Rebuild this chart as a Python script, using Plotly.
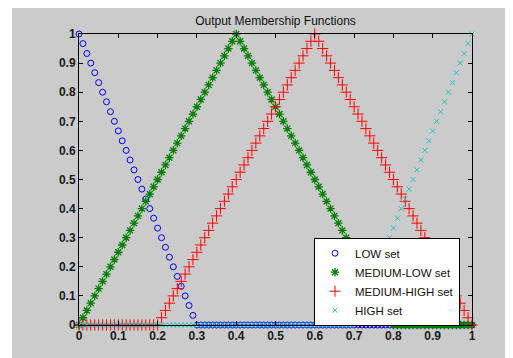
import plotly.graph_objects as go

x_values = [
    0.00, 0.01, 0.02, 0.03, 0.04, 0.05, 0.06, 0.07, 0.08, 0.09,
    0.10, 0.11, 0.12, 0.13, 0.14, 0.15, 0.16, 0.17, 0.18, 0.19,
    0.20, 0.21, 0.22, 0.23, 0.24, 0.25, 0.26, 0.27, 0.28, 0.29,
    0.30, 0.31, 0.32, 0.33, 0.34, 0.35, 0.36, 0.37, 0.38, 0.39,
    0.40, 0.41, 0.42, 0.43, 0.44, 0.45, 0.46, 0.47, 0.48, 0.49,
    0.50, 0.51, 0.52, 0.53, 0.54, 0.55, 0.56, 0.57, 0.58, 0.59,
    0.60, 0.61, 0.62, 0.63, 0.64, 0.65, 0.66, 0.67, 0.68, 0.69,
    0.70, 0.71, 0.72, 0.73, 0.74, 0.75, 0.76, 0.77, 0.78, 0.79,
    0.80, 0.81, 0.82, 0.83, 0.84, 0.85, 0.86, 0.87, 0.88, 0.89,
    0.90, 0.91, 0.92, 0.93, 0.94, 0.95, 0.96, 0.97, 0.98, 0.99,
    1.00,
]

low_set = [
    1.000, 0.967, 0.933, 0.900, 0.867, 0.833, 0.800, 0.767, 0.733, 0.700,
    0.667, 0.633, 0.600, 0.567, 0.533, 0.500, 0.467, 0.433, 0.400, 0.367,
    0.333, 0.300, 0.267, 0.233, 0.200, 0.167, 0.133, 0.100, 0.067, 0.033,
    0, 0, 0, 0, 0, 0, 0, 0, 0, 0,
    0, 0, 0, 0, 0, 0, 0, 0, 0, 0,
    0, 0, 0, 0, 0, 0, 0, 0, 0, 0,
    0, 0, 0, 0, 0, 0, 0, 0, 0, 0,
    0, 0, 0, 0, 0, 0, 0, 0, 0, 0,
    0, 0, 0, 0, 0, 0, 0, 0, 0, 0,
    0, 0, 0, 0, 0, 0, 0, 0, 0, 0,
    0,
]

medium_low_set = [
    0.000, 0.025, 0.050, 0.075, 0.100, 0.125, 0.150, 0.175, 0.200, 0.225,
    0.250, 0.275, 0.300, 0.325, 0.350, 0.375, 0.400, 0.425, 0.450, 0.475,
    0.500, 0.525, 0.550, 0.575, 0.600, 0.625, 0.650, 0.675, 0.700, 0.725,
    0.750, 0.775, 0.800, 0.825, 0.850, 0.875, 0.900, 0.925, 0.950, 0.975,
    1.000, 0.975, 0.950, 0.925, 0.900, 0.875, 0.850, 0.825, 0.800, 0.775,
    0.750, 0.725, 0.700, 0.675, 0.650, 0.625, 0.600, 0.575, 0.550, 0.525,
    0.500, 0.475, 0.450, 0.425, 0.400, 0.375, 0.350, 0.325, 0.300, 0.275,
    0.250, 0.225, 0.200, 0.175, 0.150, 0.125, 0.100, 0.075, 0.050, 0.025,
    0, 0, 0, 0, 0, 0, 0, 0, 0, 0,
    0, 0, 0, 0, 0, 0, 0, 0, 0, 0,
    0,
]

medium_high_set = [
    0, 0, 0, 0, 0, 0, 0, 0, 0, 0,
    0, 0, 0, 0, 0, 0, 0, 0, 0, 0,
    0.000, 0.025, 0.050, 0.075, 0.100, 0.125, 0.150, 0.175, 0.200, 0.225,
    0.250, 0.275, 0.300, 0.325, 0.350, 0.375, 0.400, 0.425, 0.450, 0.475,
    0.500, 0.525, 0.550, 0.575, 0.600, 0.625, 0.650, 0.675, 0.700, 0.725,
    0.750, 0.775, 0.800, 0.825, 0.850, 0.875, 0.900, 0.925, 0.950, 0.975,
    1.000, 0.975, 0.950, 0.925, 0.900, 0.875, 0.850, 0.825, 0.800, 0.775,
    0.750, 0.725, 0.700, 0.675, 0.650, 0.625, 0.600, 0.575, 0.550, 0.525,
    0.500, 0.475, 0.450, 0.425, 0.400, 0.375, 0.350, 0.325, 0.300, 0.275,
    0.250, 0.225, 0.200, 0.175, 0.150, 0.125, 0.100, 0.075, 0.050, 0.025,
    0.000,
]

high_set = [
    0, 0, 0, 0, 0, 0, 0, 0, 0, 0,
    0, 0, 0, 0, 0, 0, 0, 0, 0, 0,
    0, 0, 0, 0, 0, 0, 0, 0, 0, 0,
    0, 0, 0, 0, 0, 0, 0, 0, 0, 0,
    0, 0, 0, 0, 0, 0, 0, 0, 0, 0,
    0, 0, 0, 0, 0, 0, 0, 0, 0, 0,
    0, 0, 0, 0, 0, 0, 0, 0, 0, 0,
    0.000, 0.033, 0.067, 0.100, 0.133, 0.167, 0.200, 0.233, 0.267, 0.300,
    0.333, 0.367, 0.400, 0.433, 0.467, 0.500, 0.533, 0.567, 0.600, 0.633,
    0.667, 0.700, 0.733, 0.767, 0.800, 0.833, 0.867, 0.900, 0.933, 0.967,
    1.000,
]

series_names = ["LOW set", "MEDIUM-LOW set", "MEDIUM-HIGH set", "HIGH set"]
tick_values = [0, 0.1, 0.2, 0.3, 0.4, 0.5, 0.6, 0.7, 0.8, 0.9, 1]
tick_labels = ["0", "0.1", "0.2", "0.3", "0.4", "0.5", "0.6", "0.7", "0.8", "0.9", "1"]
title_text = "Output Membership Functions"

styles = [
    dict(symbol="circle-open", size=6, color="#0000ff", lw=1),
    dict(symbol="asterisk-open", size=7, color="#008000", lw=1.3),
    dict(symbol="cross-thin-open", size=8, color="#ff0000", lw=1),
    dict(symbol="x-thin-open", size=5, color="#22c4c4", lw=1),
]

fig = go.Figure()
for name, ys, st in zip(series_names, [low_set, medium_low_set, medium_high_set, high_set], styles):
    fig.add_trace(go.Scatter(
        x=x_values, y=ys, mode="markers", name=name, cliponaxis=False,
        marker=dict(symbol=st["symbol"], size=st["size"], color=st["color"],
                    line=dict(color=st["color"], width=st["lw"])),
    ))

font_family = "Liberation Sans, Arial, sans-serif"
axis_common = dict(
    range=[0, 1], tickvals=tick_values, ticktext=tick_labels,
    ticks="inside", ticklen=4, tickcolor="black", tickwidth=1,
    showline=True, linecolor="black", linewidth=1, mirror="ticks",
    showgrid=False, zeroline=False,
    tickfont=dict(family=font_family, size=12, color="#1a1a1a", weight="bold"),
)

fig.update_layout(
    width=505, height=350,
    margin=dict(l=71, r=41, t=26, b=33),
    paper_bgcolor="white",
    plot_bgcolor="white",
    title=dict(text=title_text, x=0.5, xref="paper", xanchor="center",
               y=1 - 13 / 350, yref="container", yanchor="middle",
               font=dict(family=font_family, size=12, color="#111111")),
    xaxis=axis_common,
    yaxis=axis_common,
    legend=dict(x=0.598, y=0.30, xanchor="left", yanchor="top",
                bgcolor="white", bordercolor="black", borderwidth=1,
                font=dict(family=font_family, size=11.5, color="#111111"),
                itemsizing="trace", tracegroupgap=0),
    shapes=[dict(type="rect", xref="paper", yref="paper", layer="below",
                 x0=-0.1705, x1=1.2, y0=-0.2, y1=1.2,
                 fillcolor="#cbcbcb", line=dict(width=0))],
    showlegend=True,
)

fig.write_html("out.html")
